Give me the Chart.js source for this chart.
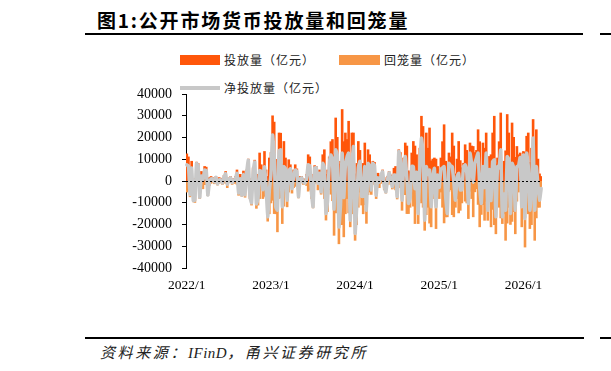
<!DOCTYPE html>
<html><head><meta charset="utf-8">
<script src="https://cdn.jsdelivr.net/npm/chart.js@4"></script>
<style>
html,body{margin:0;padding:0;background:#fff;}
body{width:611px;height:371px;position:relative;overflow:hidden;font-family:"Noto Sans CJK SC",sans-serif;}
#c{position:absolute;left:0;top:0;}
.t{position:absolute;white-space:nowrap;}
.ln{position:absolute;background:#000;}
.sw{position:absolute;}
</style></head><body>
<div class="t" style="left:97px;top:9px;font-size:19px;line-height:22px;font-weight:bold;letter-spacing:1.8px;color:#000;">图1:公开市场货币投放量和回笼量</div>
<div class="ln" style="left:85px;top:33px;width:498px;height:1.5px;"></div>
<div class="ln" style="left:600px;top:33px;width:11px;height:1.5px;"></div>
<div class="sw" style="left:180px;top:55px;width:40px;height:10px;background:#FF560A;"></div>
<div class="t" style="left:224px;top:52px;font-size:12px;line-height:16px;letter-spacing:1px;color:#222;">投放量（亿元）</div>
<div class="sw" style="left:339px;top:55px;width:41px;height:10px;background:#F79646;"></div>
<div class="t" style="left:384px;top:52px;font-size:12px;line-height:16px;letter-spacing:1px;color:#222;">回笼量（亿元）</div>
<div class="sw" style="left:180px;top:86px;width:40px;height:4px;background:#C8C8C8;"></div>
<div class="t" style="left:224px;top:80px;font-size:12px;line-height:16px;letter-spacing:1px;color:#222;">净投放量（亿元）</div>
<div class="ln" style="left:85px;top:337px;width:499px;height:1.5px;"></div>
<div class="ln" style="left:600px;top:337px;width:11px;height:1.5px;"></div>
<div class="t" style="left:100px;top:342px;font-size:15px;line-height:19px;font-style:italic;letter-spacing:2.6px;color:#222;">资料来源：<span style="font-family:'Liberation Serif',serif;letter-spacing:0.5px;">IFinD</span>，甬兴证券研究所</div>
<canvas id="c" width="611" height="371"></canvas>
<script>
const startDate = "2022-01-07";
const injection = [12400,11000,1000,9000,500,1000,8600,8000,500,4300,
4000,6600,6300,300,1500,2000,1500,800,2000,500,
1500,1200,600,2500,4300,1500,1000,2000,800,1000,
2000,5000,1000,3000,500,4500,1000,5000,10000,800,
1000,6000,9500,2000,3000,12800,7400,4000,13500,5000,
2000,10500,13000,29900,27000,3000,9900,22000,21900,7700,
18100,10500,3000,9700,7400,2000,5000,7400,5500,500,
2000,2000,1000,500,3000,12000,11000,3000,500,7000,
6600,3000,5000,1000,12000,14300,3000,5000,11000,18000,
19000,12000,28900,20000,7700,9000,32800,18000,22000,19000,
27400,3000,22000,22000,3200,8000,18100,14000,4000,8000,
17400,6000,14300,12000,2000,9000,8500,1500,3500,2500,
3500,5000,1500,500,2000,4300,2700,1000,5800,6600,
1000,14300,13000,4600,10500,17400,16000,4600,4000,12800,
18100,16000,12000,4600,15000,29700,25000,4600,22000,15000,
24300,9200,10000,10500,10000,6600,5000,10500,18000,25800,
9000,1500,12800,11000,22000,16000,3200,10000,18100,9300,
6000,8100,16600,14000,6900,17400,16000,15800,13000,14000,
23500,18000,5000,17400,15000,22000,4600,11200,12000,22000,
29700,7800,10500,18000,31200,3100,9000,13800,30500,22000,
5000,26600,20000,10800,15800,12000,12800,9200,13500,13100,
20500,22000,8400,15000,28200,13800,23500,10000,3200,2000];
const withdrawal = [-5000,-4000,-7200,-3000,-9500,-9800,-500,-1000,-8000,-2000,
-3500,-1600,-1500,-6700,-2000,-1000,-500,-1200,-300,-1800,
-1000,-700,-1500,-500,-1000,-3000,-700,-500,-1500,-800,
-1000,-1500,-6500,-2000,-7000,-1500,-7400,-1000,-500,-8000,
-11000,-1500,-800,-12500,-11000,-8000,-3000,-8000,-7000,-7600,
-18400,-15000,-10000,-8800,-14900,-15000,-23300,-8000,-7600,-19500,
-11500,-5000,-11800,-5000,-1800,-5500,-3000,-2400,-1000,-7700,
-1000,-500,-1500,-1500,-2000,-4600,-4000,-8000,-12300,-1000,
-500,-4000,-1500,-6000,-3900,-8000,-17900,-14000,-4000,-6000,
-9000,-24900,-14600,-8000,-28800,-20000,-20000,-25600,-15000,-8000,
-14600,-21000,-15000,-6200,-27200,-20000,-12000,-5000,-11000,-15000,
-10800,-19400,-6200,-5000,-6100,-900,-1500,-8000,-2000,-3000,
-1000,-700,-4000,-5500,-1500,-500,-1500,-3600,-3100,-4000,
-8200,-800,-3000,-13400,-3900,-6200,-14900,-14900,-12000,-6000,
-11500,-19500,-8000,-19500,-9000,-10000,-12000,-22600,-15400,-12000,
-19300,-21000,-8000,-4700,-21800,-3900,-8000,-5000,-12000,-19200,
-16400,-16400,-4700,-4000,-15400,-16400,-12000,-8000,-14600,-13400,
-10000,-1500,-9200,-10000,-17200,-4600,-8000,-16400,-4900,-3500,
-10700,-21000,-15300,-10800,-18000,-9200,-18000,-6000,-21000,-13000,
-20000,-24200,-3900,-12000,-16900,-19500,-15000,-27200,-19300,-12000,
-19900,-18500,-14000,-24200,-9200,-5000,-2000,-21000,-1500,-30300,
-7700,-15000,-21800,-20000,-8500,-27200,-16900,-12000,-12000,-5400];
const netInjection = [7400,7000,-6200,6000,-9000,-8800,8100,7000,-7500,2300,
500,5000,4800,-6400,-500,1000,1000,-400,1700,-1300,
500,500,-900,2000,3300,-1500,300,1500,-700,200,
1000,3500,-5500,1000,-6500,3000,-6400,4000,9500,-7200,
-10000,4500,8700,-10500,-8000,4800,4400,-4000,6500,-2600,
-16400,-4500,3000,21100,12100,-12000,-13400,14000,14300,-11800,
6600,5500,-8800,4700,5600,-3500,2000,5000,4500,-7200,
1000,1500,-500,-1000,1000,7400,7000,-5000,-11800,6000,
6100,-1000,3500,-5000,8100,6300,-14900,-9000,7000,12000,
10000,-12900,14300,12000,-21100,-11000,12800,-7600,7000,11000,
12800,-18000,7000,15800,-24000,-12000,6100,9000,-7000,-7000,
6600,-13400,8100,7000,-4100,8100,7000,-6500,1500,-500,
2500,4300,-2500,-5000,500,3800,1200,-2600,2700,2600,
-7200,13500,10000,-8800,6600,11200,1100,-10300,-8000,6800,
6600,-3500,4000,-14900,6000,19700,13000,-18000,6600,3000,
5000,-11800,2000,5800,-11800,2700,-3000,5500,6000,6600,
-7400,-14900,8100,7000,6600,-400,-8800,2000,3500,-4100,
-4000,6600,7400,4000,-10300,12800,8000,-600,8100,10500,
12800,-3000,-10300,6600,-3000,12800,-13400,5200,-9000,9000,
9700,-16400,6600,6000,14300,-16400,-6000,-13400,11200,10000,
-14900,8100,6000,-13400,6600,7000,10800,-11800,12000,-17200,
12800,7000,-13400,-5000,19700,-13400,6600,-2000,-8800,-3400];
const yTicks = [-40000,-30000,-20000,-10000,0,10000,20000,30000,40000];
const seriesNames = ["投放量（亿元）","回笼量（亿元）","净投放量（亿元）"];

// weekly category labels
const labels = [];
{
  const d0 = new Date(startDate + "T00:00:00Z");
  for (let i = 0; i < injection.length; i++) {
    const d = new Date(d0.getTime() + i * 7 * 86400000);
    labels.push(d.getUTCFullYear() + "/" + (d.getUTCMonth() + 1) + "/" + d.getUTCDate());
  }
}

const zeroLine = {
  id: 'zeroLine',
  afterDatasetsDraw(chart) {
    const y = chart.scales.y.getPixelForValue(0);
    const a = chart.chartArea;
    const ctx = chart.ctx;
    ctx.save();
    ctx.strokeStyle = '#000';
    ctx.lineWidth = 1;
    ctx.setLineDash([2, 2]);
    ctx.beginPath();
    ctx.moveTo(a.left, Math.round(y) + 0.5);
    ctx.lineTo(a.right, Math.round(y) + 0.5);
    ctx.stroke();
    ctx.restore();
  }
};

new Chart(document.getElementById('c'), {
  data: {
    labels: labels,
    datasets: [
      {type: 'line', label: seriesNames[2], data: netInjection, borderColor: '#C8C8C8', borderWidth: 3.5,
       pointRadius: 0, tension: 0.15, borderJoinStyle: 'round', borderCapStyle: 'round', order: 0},
      {type: 'bar', label: seriesNames[0], data: injection, backgroundColor: '#FF560A',
       barPercentage: 1, categoryPercentage: 1, inflateAmount: 0.5, order: 2},
      {type: 'bar', label: seriesNames[1], data: withdrawal, backgroundColor: '#F79646',
       barPercentage: 1, categoryPercentage: 1, inflateAmount: 0.5, order: 1}
    ]
  },
  options: {
    responsive: false,
    animation: false,
    devicePixelRatio: 1,
    layout: {padding: {left: 126, top: 94, right: 69, bottom: 73}},
    plugins: {legend: {display: false}, tooltip: {enabled: false}, title: {display: false}},
    scales: {
      x: {
        stacked: true,
        offset: true,
        grid: {display: false, drawTicks: false},
        border: {display: false},
        ticks: {
          autoSkip: false, maxRotation: 0, minRotation: 0, padding: 9,
          color: '#000', font: {family: 'Liberation Serif', size: 13.5},
          callback: function(v, i) {
            const p = labels[i].split('/');
            return (p[1] === '1' && +p[2] <= 7) ? p[0] + '/1' : '';
          }
        },
        afterFit(axis) { axis.height = 30; }
      },
      y: {
        min: yTicks[0], max: yTicks[yTicks.length - 1],
        afterBuildTicks(axis) { axis.ticks = yTicks.map(v => ({value: v})); },
        grid: {drawOnChartArea: false, drawTicks: true, tickLength: 4, color: '#000', lineWidth: 1},
        border: {display: true, color: '#000', width: 1},
        ticks: {padding: 10, color: '#000', font: {family: 'Liberation Serif', size: 14},
                callback: v => String(v)},
        afterFit(axis) { axis.width = 60; }
      }
    }
  },
  plugins: [zeroLine]
});
</script>
</body></html>
